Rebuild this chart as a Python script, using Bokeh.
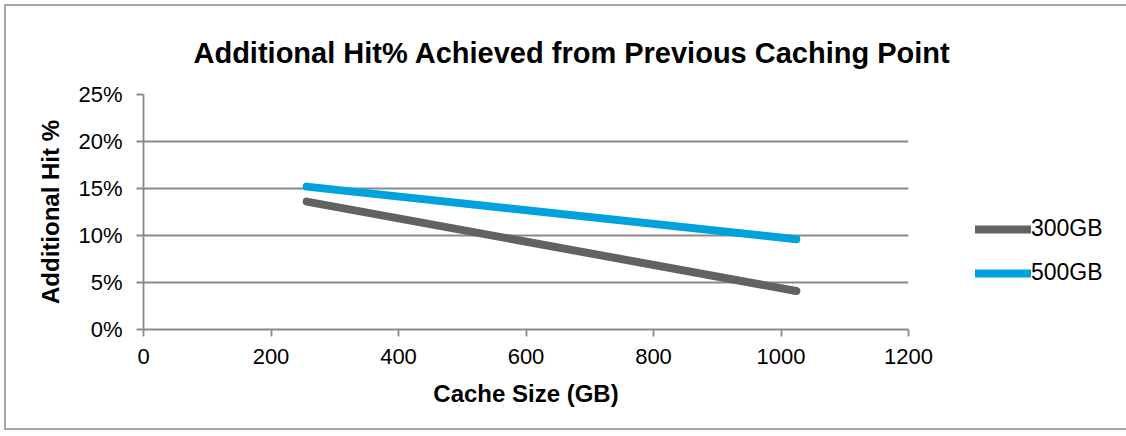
from bokeh.plotting import figure
from bokeh.models import Legend, LegendItem, NumeralTickFormatter, FixedTicker
from bokeh.embed import file_html
from bokeh.resources import INLINE

cache_size = [256, 1024]
hit_300 = [0.136, 0.041]
hit_500 = [0.152, 0.096]
series_names = ["300GB", "500GB"]
colors = ["#626262", "#00a2dd"]
x_ticks = [0, 200, 400, 600, 800, 1000, 1200]
y_ticks = [0, 0.05, 0.10, 0.15, 0.20, 0.25]

p = figure(frame_width=765, frame_height=235, output_backend="svg", toolbar_location=None,
           x_range=(0, 1200), y_range=(0, 0.25),
           min_border_left=137, min_border_right=210, min_border_top=88, min_border_bottom=99)
p.border_fill_color = "white"
p.outline_line_color = None
p.styles = {"border": "2px solid #a6a6a6", "margin-left": "4px", "margin-top": "4px"}

p.title.text = "Additional Hit% Achieved from Previous Caching Point"
p.title.align = "left"
p.title.text_font = "Liberation Sans"
p.title.text_font_style = "bold"
p.title.text_font_size = "29px"
p.title.text_color = "black"
p.title.offset = 50
p.title.standoff = 51

r1 = p.line(cache_size, hit_300, line_width=8, color=colors[0], line_cap="round")
r2 = p.line(cache_size, hit_500, line_width=8, color=colors[1], line_cap="round")

p.xaxis.ticker = FixedTicker(ticks=x_ticks)
p.yaxis.ticker = FixedTicker(ticks=y_ticks)
p.yaxis.formatter = NumeralTickFormatter(format="0%")
p.xgrid.visible = False
p.ygrid.grid_line_color = "#8a8a8a"
p.ygrid.grid_line_width = 1.8
for ax in (p.xaxis, p.yaxis):
    ax.axis_line_color = "#8a8a8a"
    ax.axis_line_width = 1.8
    ax.major_tick_line_color = "#8a8a8a"
    ax.major_tick_line_width = 1.8
    ax.minor_tick_line_color = None
    ax.major_tick_in = 0
    ax.major_tick_out = 7
    ax.major_label_text_font = "Liberation Sans"
    ax.major_label_text_font_size = "22px"
    ax.major_label_text_color = "black"
    ax.axis_label_text_font = "Liberation Sans"
    ax.axis_label_text_font_style = "bold"
    ax.axis_label_text_font_size = "24px"
    ax.axis_label_text_color = "black"
p.xaxis.axis_label = "Cache Size (GB)"
p.yaxis.axis_label = "Additional Hit %"
p.xaxis.major_label_standoff = 12
p.xaxis.axis_label_standoff = 13
p.yaxis.major_label_standoff = 14
p.yaxis.axis_label_standoff = 11

legend = Legend(items=[LegendItem(label=series_names[0], renderers=[r1]),
                       LegendItem(label=series_names[1], renderers=[r2])],
                location=(67, 43), orientation="vertical")
legend.label_text_font = "Liberation Sans"
legend.label_text_font_size = "23px"
legend.label_text_color = "black"
legend.glyph_width = 56
legend.glyph_height = 24
legend.label_standoff = 0
legend.spacing = 17
legend.padding = 0
legend.margin = 0
legend.border_line_color = None
legend.background_fill_alpha = 0
p.add_layout(legend, "right")

open("out.html", "w").write(file_html(p, INLINE))
